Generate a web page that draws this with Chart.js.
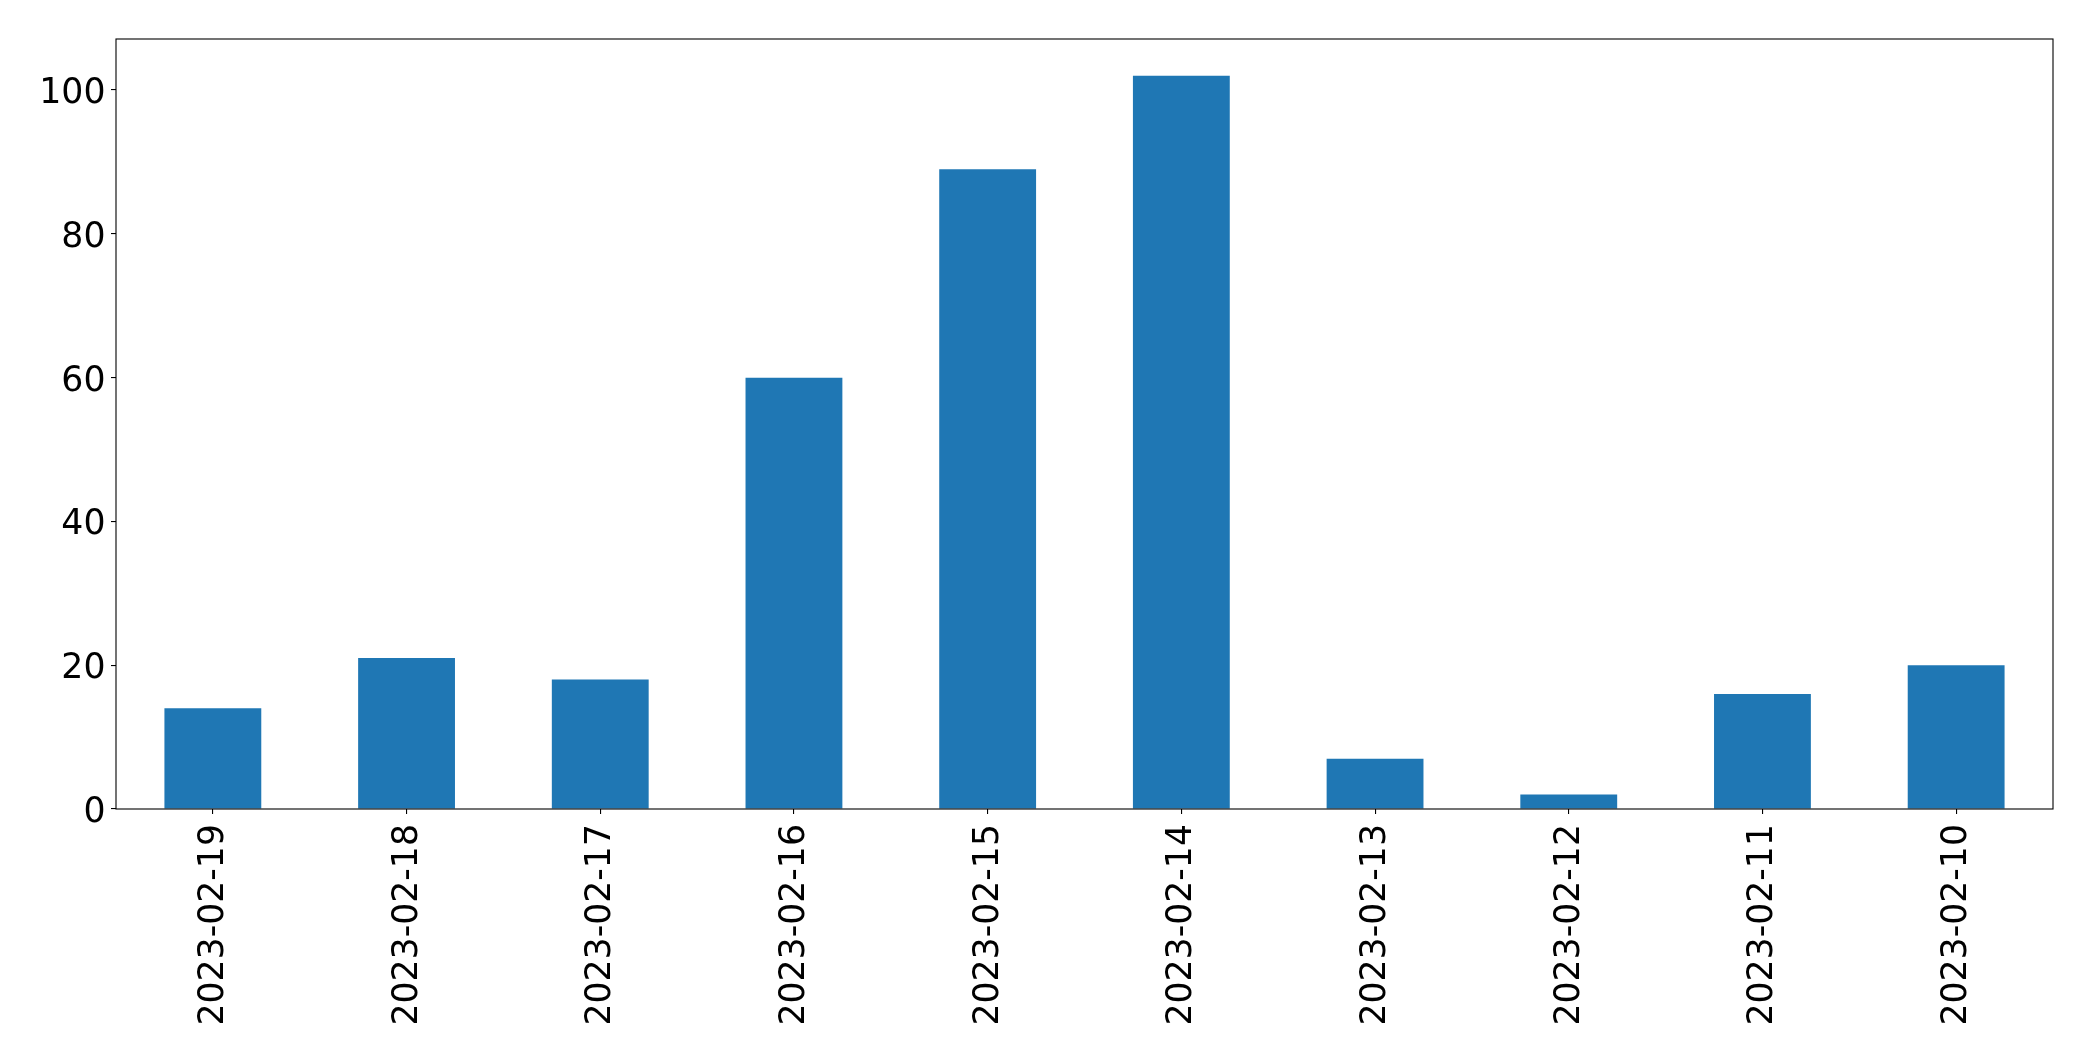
<!DOCTYPE html>
<html>
<head>
<meta charset="utf-8">
<script src="https://cdn.jsdelivr.net/npm/chart.js@4"></script>
<style>
  html, body { margin: 0; padding: 0; background: #fff; }
  #wrap { width: 2093px; height: 1061px; position: relative; }
</style>
</head>
<body>
<div id="wrap"><canvas id="chart"></canvas></div>
<script>
const labels = ['2023-02-19', '2023-02-18', '2023-02-17', '2023-02-16', '2023-02-15',
  '2023-02-14', '2023-02-13', '2023-02-12', '2023-02-11', '2023-02-10'];
const counts = [14, 21, 18, 60, 89, 102, 7, 2, 16, 20];
const yTicks = [0, 20, 40, 60, 80, 100];

const BAR_COLOR = '#1f77b4';
const FONT = { family: 'DejaVu Sans', size: 34.7 };

// black frame round the plot area, like matplotlib's spines
const framePlugin = {
  id: 'frame',
  afterDraw(chart) {
    const { ctx, chartArea: a } = chart;
    ctx.save();
    ctx.strokeStyle = '#000';
    ctx.lineWidth = 1.1;
    ctx.strokeRect(a.left, a.top, a.right - a.left, a.bottom - a.top);
    ctx.restore();
  },
};

new Chart(document.getElementById('chart'), {
  type: 'bar',
  data: {
    labels,
    datasets: [{
      data: counts,
      backgroundColor: BAR_COLOR,
      barPercentage: 0.5,
      categoryPercentage: 1.0,
    }],
  },
  options: {
    responsive: true,
    maintainAspectRatio: false,
    animation: false,
    layout: { padding: { top: 39, right: 40, left: 0, bottom: 0 } },
    plugins: { legend: { display: false }, tooltip: { enabled: false } },
    scales: {
      x: {
        offset: true,
        grid: {
          offset: false,
          drawOnChartArea: false,
          drawTicks: true,
          tickLength: 5,
          tickColor: '#000',
          lineWidth: 1.1,
        },
        border: { display: false },
        ticks: {
          color: '#000',
          font: FONT,
          minRotation: 90,
          maxRotation: 90,
          padding: 10,
          labelOffset: 1,
          autoSkip: false,
        },
        afterFit: (scale) => { scale.height = 252; },
      },
      y: {
        min: 0,
        max: 107.1,
        grid: {
          drawOnChartArea: false,
          drawTicks: true,
          tickLength: 5,
          tickColor: '#000',
          lineWidth: 1.1,
        },
        border: { display: false },
        ticks: { color: '#000', font: FONT, padding: 5.5, labelOffset: 4 },
        afterBuildTicks: (scale) => { scale.ticks = yTicks.map((v) => ({ value: v })); },
        afterFit: (scale) => { scale.width = 116; },
      },
    },
  },
  plugins: [framePlugin],
});
</script>
</body>
</html>
